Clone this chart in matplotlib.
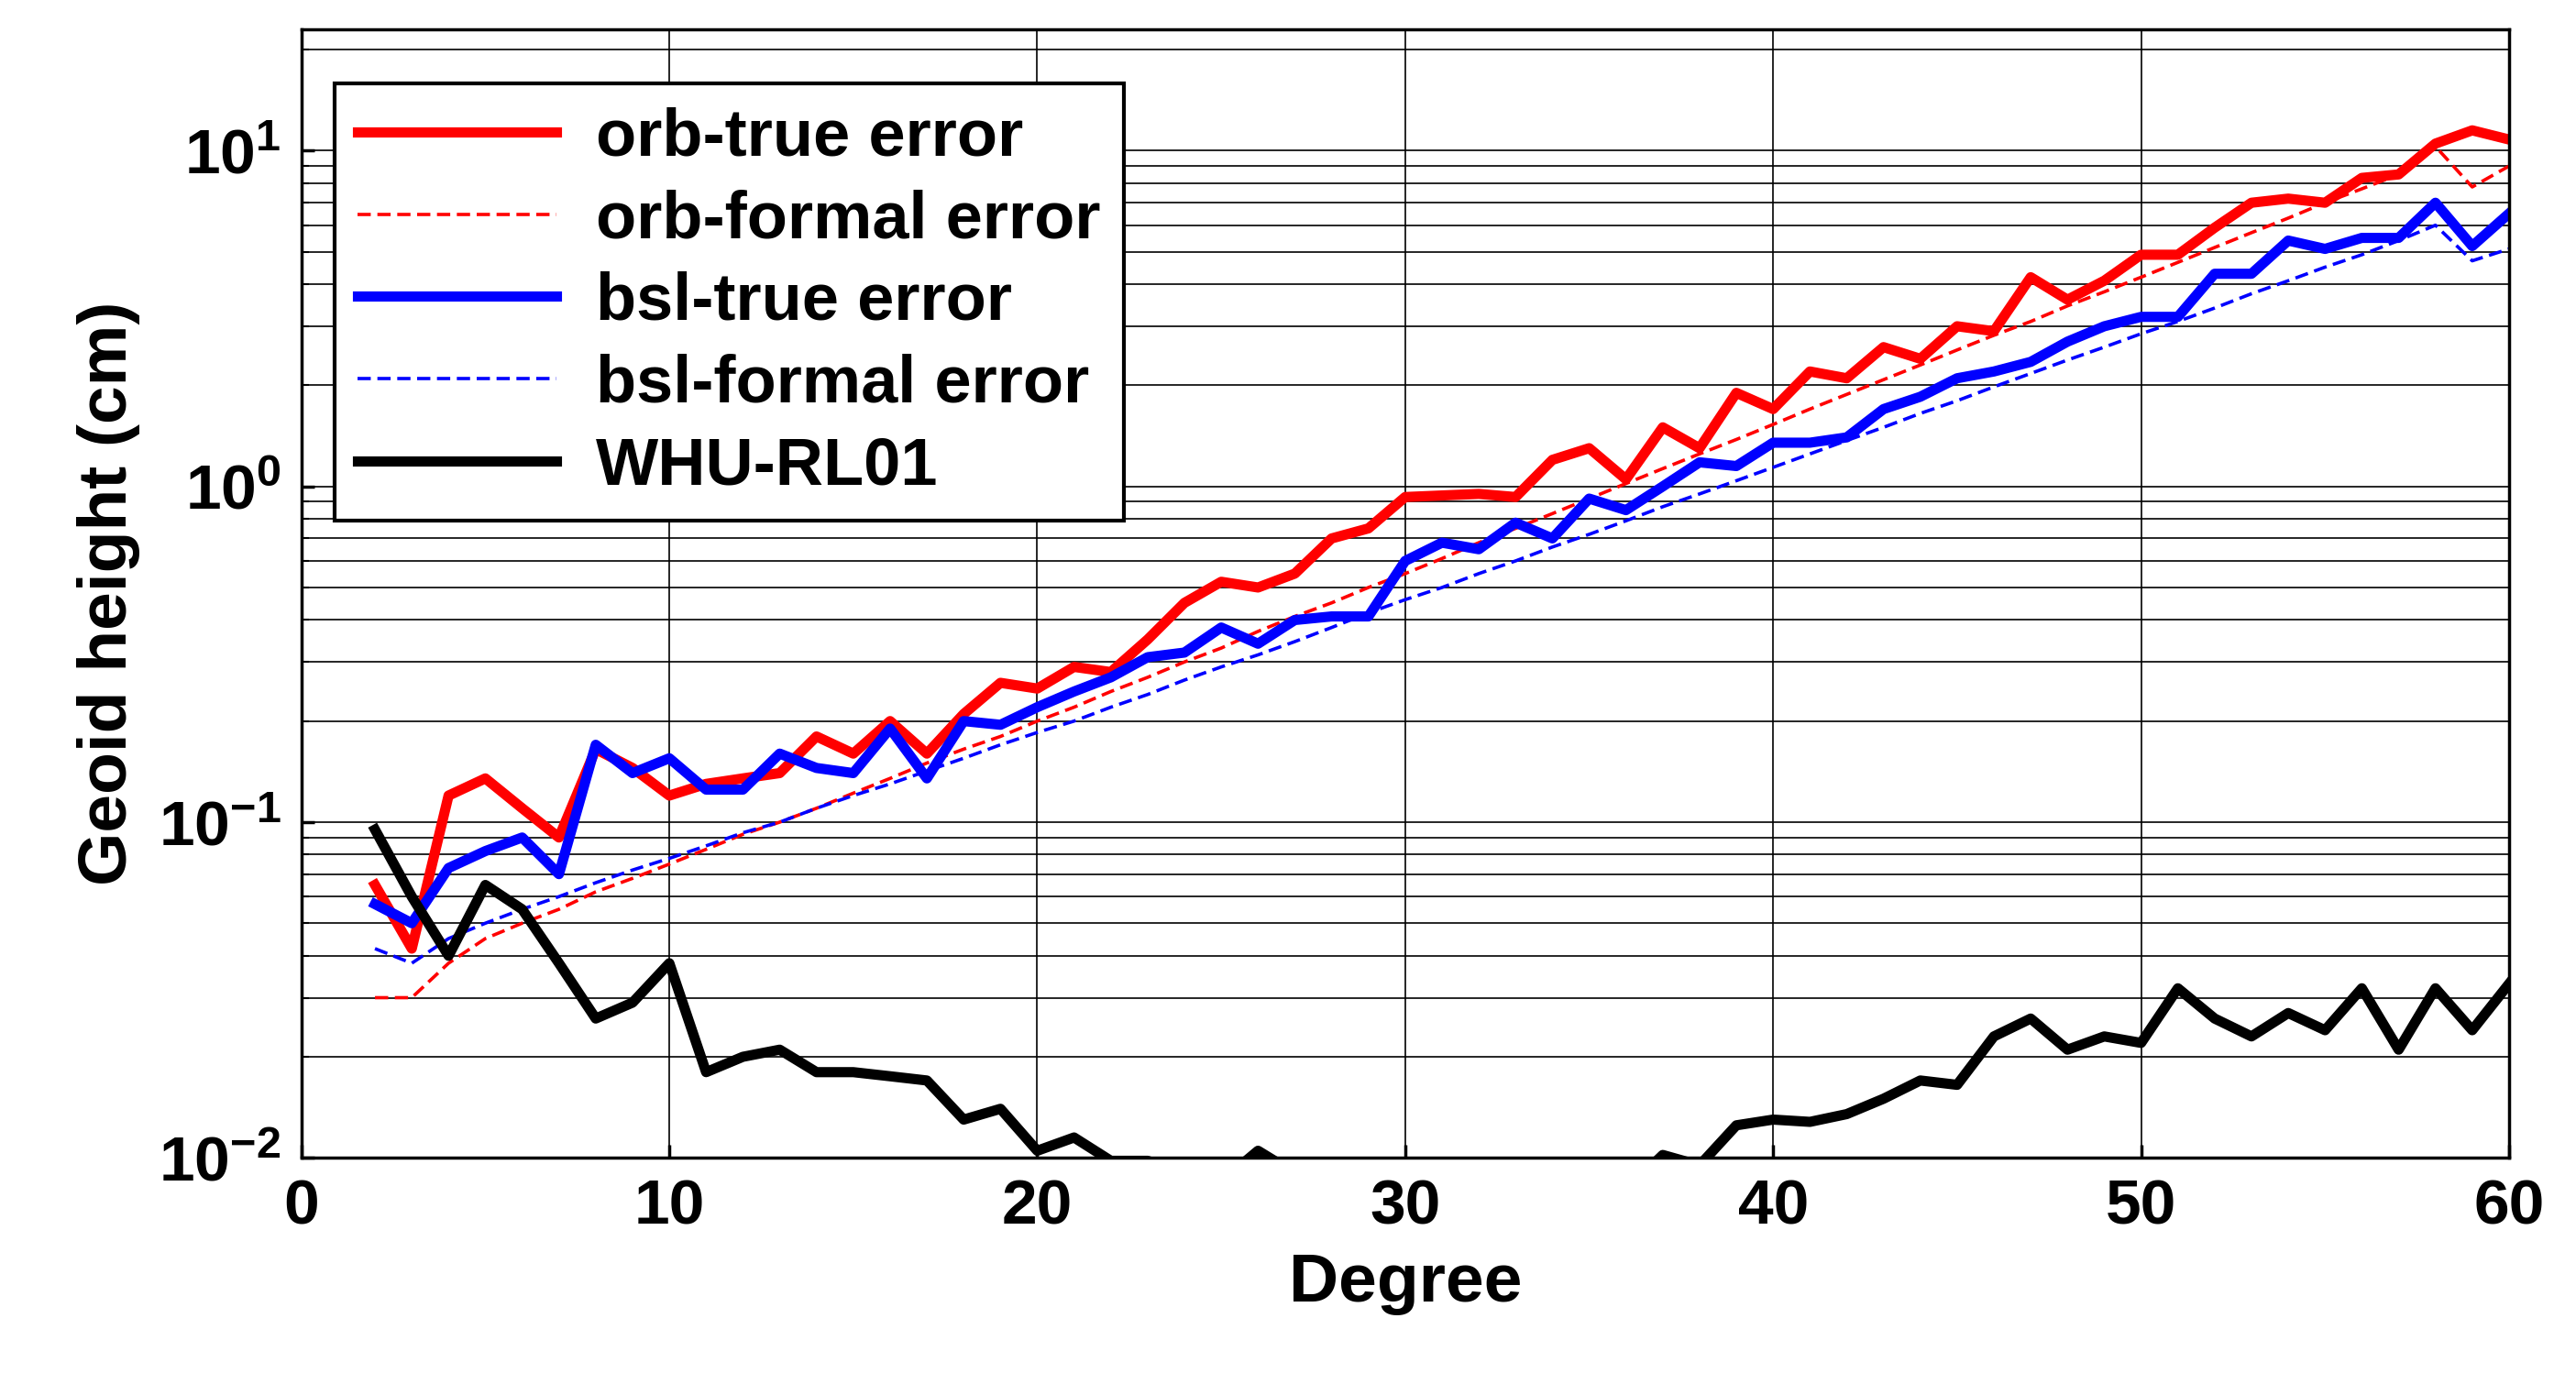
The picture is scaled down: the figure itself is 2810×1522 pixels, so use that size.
import numpy as np
import matplotlib.pyplot as plt

plt.rcParams['font.family'] = ['Liberation Sans', 'DejaVu Sans']
plt.rcParams['font.weight'] = 'bold'

deg = np.arange(2, 61)

orb_true = [0.065, 0.042, 0.12, 0.135, 0.11, 0.09, 0.165, 0.145, 0.12, 0.13,
            0.135, 0.14, 0.18, 0.16, 0.2, 0.16, 0.21, 0.26, 0.25, 0.29,
            0.28, 0.35, 0.45, 0.52, 0.5, 0.55, 0.7, 0.75, 0.93, 0.94,
            0.95, 0.93, 1.2, 1.3, 1.05, 1.5, 1.3, 1.9, 1.7, 2.2,
            2.1, 2.6, 2.4, 3.0, 2.9, 4.2, 3.6, 4.1, 4.9, 4.9,
            5.9, 7.0, 7.2, 7.0, 8.3, 8.5, 10.5, 11.5, 10.8]
orb_formal = [0.03, 0.03, 0.038, 0.045, 0.05, 0.055, 0.062, 0.068, 0.075, 0.083,
              0.092, 0.10, 0.11, 0.122, 0.135, 0.15, 0.165, 0.18, 0.2, 0.22,
              0.245, 0.27, 0.3, 0.33, 0.37, 0.41, 0.45, 0.5, 0.55, 0.61,
              0.68, 0.75, 0.83, 0.92, 1.02, 1.13, 1.25, 1.38, 1.53, 1.7,
              1.88, 2.08, 2.3, 2.55, 2.82, 3.1, 3.45, 3.8, 4.2, 4.65,
              5.15, 5.7, 6.3, 7.0, 7.7, 8.5, 10.3, 7.8, 9.0]
bsl_true = [0.057, 0.05, 0.073, 0.082, 0.09, 0.07, 0.17, 0.14, 0.155, 0.125,
            0.125, 0.16, 0.145, 0.14, 0.19, 0.135, 0.2, 0.195, 0.22, 0.245,
            0.27, 0.31, 0.32, 0.38, 0.34, 0.4, 0.41, 0.41, 0.6, 0.68,
            0.65, 0.78, 0.7, 0.92, 0.85, 1.0, 1.18, 1.15, 1.35, 1.35,
            1.4, 1.7, 1.85, 2.1, 2.2, 2.35, 2.7, 3.0, 3.2, 3.2,
            4.3, 4.3, 5.4, 5.1, 5.5, 5.5, 7.0, 5.2, 6.5]
bsl_formal = [0.042, 0.038, 0.045, 0.05, 0.055, 0.06, 0.066, 0.072, 0.078, 0.085,
              0.093, 0.1, 0.11, 0.12, 0.13, 0.142, 0.155, 0.17, 0.185, 0.2,
              0.22, 0.24, 0.265, 0.29, 0.315, 0.345, 0.38, 0.42, 0.46, 0.5,
              0.55, 0.6, 0.66, 0.72, 0.79, 0.87, 0.95, 1.04, 1.14, 1.25,
              1.37, 1.5, 1.65, 1.8, 1.98, 2.17, 2.38, 2.6, 2.85, 3.1,
              3.4, 3.75, 4.1, 4.5, 4.9, 5.4, 6.0, 4.7, 5.1]
whu = [0.095, 0.06, 0.04, 0.065, 0.055, 0.038, 0.026, 0.029, 0.038, 0.018,
       0.02, 0.021, 0.018, 0.018, 0.0175, 0.017, 0.013, 0.014, 0.0105, 0.0115,
       0.0098, 0.0098, 0.009, 0.0085, 0.0105, 0.009, 0.0085, 0.008, 0.008, 0.0078,
       0.0078, 0.008, 0.0079, 0.008, 0.008, 0.0102, 0.0095, 0.0125, 0.013, 0.0128,
       0.0135, 0.015, 0.017, 0.0165, 0.023, 0.026, 0.021, 0.023, 0.022, 0.032,
       0.026, 0.023, 0.027, 0.024, 0.032, 0.021, 0.032, 0.024, 0.033]

fig = plt.figure(figsize=(28.1, 15.22), dpi=100)
ax = fig.add_axes([0.117, 0.170, 0.857, 0.809])

ax.plot(deg, orb_true, color='#ff0000', lw=8, label='orb-true error')
ax.plot(deg, orb_formal, color='#ff0000', lw=2.6, ls=(0, (4, 2)), label='orb-formal error')
ax.plot(deg, bsl_true, color='#0000ff', lw=8, label='bsl-true error')
ax.plot(deg, bsl_formal, color='#0000ff', lw=2.6, ls=(0, (4, 2)), label='bsl-formal error')
ax.plot(deg, whu, color='black', lw=8, label='WHU-RL01')

ax.set_yscale('log')
ax.set_xlim(0, 60)
ax.set_ylim(1e-2, 23)
ax.set_xticks(range(0, 61, 10))
ax.grid(True, which='both', color='black', lw=1.2)
for s in ax.spines.values():
    s.set_linewidth(2.5)
ax.tick_params(labelsize=50, width=2.5, length=10, which='major', direction='in', pad=16)
ax.tick_params(which='minor', direction='in', width=1.5, length=6)
ax.set_xlabel('Degree', fontsize=54, fontweight='bold', labelpad=12)
ax.set_ylabel('Geoid height (cm)', fontsize=54, fontweight='bold', labelpad=14)

leg = ax.legend(loc='upper left', bbox_to_anchor=(0.015, 0.952), borderaxespad=0,
                fontsize=52, fancybox=False, framealpha=1, edgecolor='black',
                handlelength=3.0, borderpad=0.35, labelspacing=0.3, handletextpad=0.6)
leg.get_frame().set_linewidth(3)

fig.savefig('out.png')
